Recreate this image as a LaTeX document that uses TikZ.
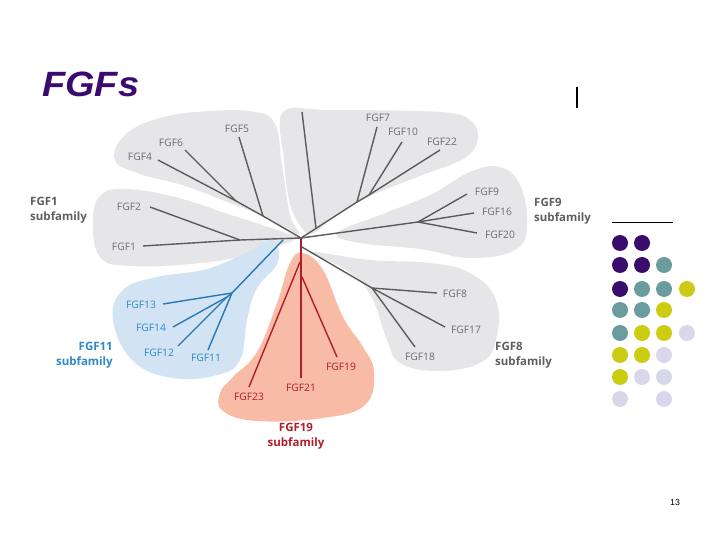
\documentclass[tikz,border=0pt]{standalone}
\usepackage{fontspec}
\setmainfont{Open Sans}
\newfontfamily\titlefont{Liberation Sans}
\definecolor{ttl}{HTML}{3B0A6E}
\definecolor{blobgray}{HTML}{E6E6E8}
\definecolor{blobblue}{HTML}{D2E3F4}
\definecolor{blobred}{HTML}{F8BBA6}
\definecolor{lgray}{HTML}{5C5C5C}
\definecolor{tgray}{HTML}{6C6C6C}
\definecolor{sgray}{HTML}{5E5E5E}
\definecolor{lblue}{HTML}{2878B4}
\definecolor{tblue}{HTML}{2E88C4}
\definecolor{lred}{HTML}{B01E2C}
\definecolor{dpurple}{HTML}{3A0D6C}
\definecolor{dteal}{HTML}{6A9C9E}
\definecolor{dyellow}{HTML}{CCCC12}
\definecolor{dlav}{HTML}{D8D8EA}
\begin{document}
\begin{tikzpicture}[x=0.03cm,y=-0.03cm,
  lbl/.style={text=tgray,font=\fontsize{8.8}{10}\selectfont,inner sep=0pt},
  blbl/.style={text=tblue,font=\fontsize{8.8}{10}\selectfont,inner sep=0pt},
  rlbl/.style={text=lred,font=\fontsize{8.8}{10}\selectfont,inner sep=0pt},
  sub/.style={font=\bfseries\fontsize{9.8}{12.5}\selectfont,inner sep=0pt},
  gbr/.style={draw=lgray,line width=1.2pt},
  bbr/.style={draw=lblue,line width=1.2pt},
  rbr/.style={draw=lred,line width=1.2pt},
  dot/.style={circle,minimum size=0.48cm,inner sep=0pt}]
\useasboundingbox (0,0) rectangle (720,540);
% title
\node[anchor=base west,text=ttl,font=\titlefont\bfseries\itshape\fontsize{30}{34}\selectfont,xscale=1.08,inner sep=0pt] (title) at (42,97) {FGFs};
\coordinate (vb1) at (577,87); \coordinate (vb2) at (577,108);
\draw[line width=0.9pt] (vb1) -- (vb2);
\coordinate (hl1) at (612,222); \coordinate (hl2) at (673,222);
\draw[line width=0.8pt] (hl1) -- (hl2);
% blobs
\fill[blobgray] plot[smooth cycle,tension=0.7] coordinates {(115,160) (125,135) (160,118) (210,111) (255,112) (275,124) (282,165) (290,215) (298,234) (262,216) (222,200) (182,185) (140,174)};
\fill[blobgray] plot[smooth cycle,tension=0.7] coordinates {(93,222) (100,196) (125,189) (175,197) (228,214) (280,231) (296,238) (275,247) (240,257) (190,264) (130,266) (100,257)};
\fill[blobgray] plot[smooth cycle,tension=0.6] coordinates {(283,112) (330,110) (440,112) (470,120) (478,138) (465,158) (420,176) (370,196) (335,216) (312,234) (299,224) (289,200) (284,160)};
\fill[blobgray] plot[smooth cycle,tension=0.7] coordinates {(337,233) (380,215) (430,195) (470,172) (500,167) (520,185) (527,225) (515,250) (470,258) (420,249) (360,243)};
\fill[blobgray] plot[smooth cycle,tension=0.7] coordinates {(310,252) (370,260) (430,263) (470,273) (496,300) (496,340) (480,363) (437,371) (400,363) (387,340) (370,294) (343,268)};
\fill[blobblue] plot[smooth cycle,tension=0.7] coordinates {(272,240) (278,262) (257,288) (247,320) (240,360) (217,375) (173,378) (133,361) (113,320) (123,290) (157,277) (207,269) (250,251)};
\fill[blobred] plot[smooth cycle,tension=0.7] coordinates {(303,253) (323,270) (343,317) (363,347) (374,372) (365,405) (323,418) (257,421) (223,411) (220,393) (233,377) (257,352) (277,303) (290,263)};
% tree coordinates
\coordinate (root) at (301,238);
\coordinate (n2) at (240,240);
\coordinate (e1) at (143,246);
\coordinate (e2) at (150,207);
\coordinate (n5) at (263,216);
\coordinate (n46) at (236,201);
\coordinate (e5) at (239,137);
\coordinate (e6) at (185,150);
\coordinate (e4) at (158,160);
\coordinate (n3) at (316,228.4);
\coordinate (e3) at (302,112);
\coordinate (n7) at (357,202);
\coordinate (n10) at (369,195);
\coordinate (e7) at (377,127);
\coordinate (e10) at (402,142);
\coordinate (e22) at (440,150);
\coordinate (n9) at (418,222);
\coordinate (e9) at (467,194);
\coordinate (e16) at (474,213);
\coordinate (e20) at (477,233);
\coordinate (r8) at (302,247);
\coordinate (n8) at (372,288);
\coordinate (e8) at (437,293);
\coordinate (e17) at (445,327);
\coordinate (e18) at (415,347);
\coordinate (b0) at (283,240);
\coordinate (nb1) at (232,293);
\coordinate (nb2) at (227,297);
\coordinate (e13) at (163,304);
\coordinate (e14) at (173,327);
\coordinate (e12) at (178,346);
\coordinate (e11) at (208,350);
\coordinate (nr1) at (300,262);
\coordinate (nr2) at (302,277);
\coordinate (e21) at (301,378);
\coordinate (e23) at (249,387);
\coordinate (er19) at (337,357);
% gray branches
\draw[gbr] (root) -- (n2) -- (e1);
\draw[gbr] (n2) -- (e2);
\draw[gbr] (root) -- (n5) -- (n46) -- (e4);
\draw[gbr] (n5) -- (e5);
\draw[gbr] (n46) -- (e6);
\draw[gbr] (root) -- (n3) -- (n7) -- (n10) -- (e22);
\draw[gbr] (n3) -- (e3);
\draw[gbr] (n7) -- (e7);
\draw[gbr] (n10) -- (e10);
\draw[gbr] (root) -- (n9) -- (e16);
\draw[gbr] (n9) -- (e9);
\draw[gbr] (n9) -- (e20);
\draw[gbr] (r8) -- (n8) -- (e8);
\draw[gbr] (n8) -- (e17);
\draw[gbr] (n8) -- (e18);
% blue branches
\draw[bbr] (b0) -- (nb1) -- (e13);
\draw[bbr] (nb1) -- (e11);
\draw[bbr] (nb1) -- (nb2) -- (e14);
\draw[bbr] (nb2) -- (e12);
% red branches
\draw[rbr] (root) -- (e21);
\draw[rbr] (nr1) -- (e23);
\draw[rbr] (nr2) -- (er19);
% labels
\node[lbl] (l1) at (124,247) {FGF1};
\node[lbl] (l2) at (129,207) {FGF2};
\node[lbl] (l4) at (140,157) {FGF4};
\node[lbl] (l6) at (171,143) {FGF6};
\node[lbl] (l5) at (237,129) {FGF5};
\node[lbl] (l7) at (378,118) {FGF7};
\node[lbl] (l10) at (403,132) {FGF10};
\node[lbl] (l22) at (442,142) {FGF22};
\node[lbl] (l9) at (487,192) {FGF9};
\node[lbl] (l16) at (497,212) {FGF16};
\node[lbl] (l20) at (500,235) {FGF20};
\node[lbl] (l8) at (455,294) {FGF8};
\node[lbl] (l17) at (466,330) {FGF17};
\node[lbl] (l18) at (420,357) {FGF18};
\node[blbl] (l13) at (141,305) {FGF13};
\node[blbl] (l14) at (151,328) {FGF14};
\node[blbl] (l12) at (159,353) {FGF12};
\node[blbl] (l11) at (206,358) {FGF11};
\node[rlbl] (l23) at (249,397) {FGF23};
\node[rlbl] (l21) at (301,388) {FGF21};
\node[rlbl] (l19) at (341,367) {FGF19};
% subfamily labels
\node[sub,text=sgray,anchor=west,align=left] (s1) at (30,210) {FGF1\\subfamily};
\node[sub,text=sgray,anchor=west,align=left] (s9) at (534,211) {FGF9\\subfamily};
\node[sub,text=sgray,anchor=west,align=left] (s8) at (495,355) {FGF8\\subfamily};
\node[sub,text=tblue,anchor=east,align=right] (s11) at (113,355) {FGF11\\subfamily};
\node[sub,text=lred,align=center] (s19) at (296,436) {FGF19\\subfamily};
% dots
\foreach \c/\x/\y [count=\i] in {
 dpurple/620/243, dpurple/642/243,
 dpurple/620/265, dpurple/642/265, dteal/664/265,
 dpurple/620/289, dteal/642/289, dteal/664/289, dyellow/687/289,
 dteal/620/310, dteal/642/310, dyellow/664/310,
 dteal/620/333, dyellow/642/333, dyellow/664/333, dlav/687/333,
 dyellow/620/355, dyellow/642/355, dlav/664/355,
 dyellow/620/377, dlav/642/377, dlav/664/377,
 dlav/620/399, dlav/664/399}
 \node[dot,fill=\c] (d\i) at (\x,\y) {};
% page number
\node[font=\titlefont\fontsize{7.5}{9}\selectfont,inner sep=0pt] (pg) at (675,502) {13};
\end{tikzpicture}
\end{document}
